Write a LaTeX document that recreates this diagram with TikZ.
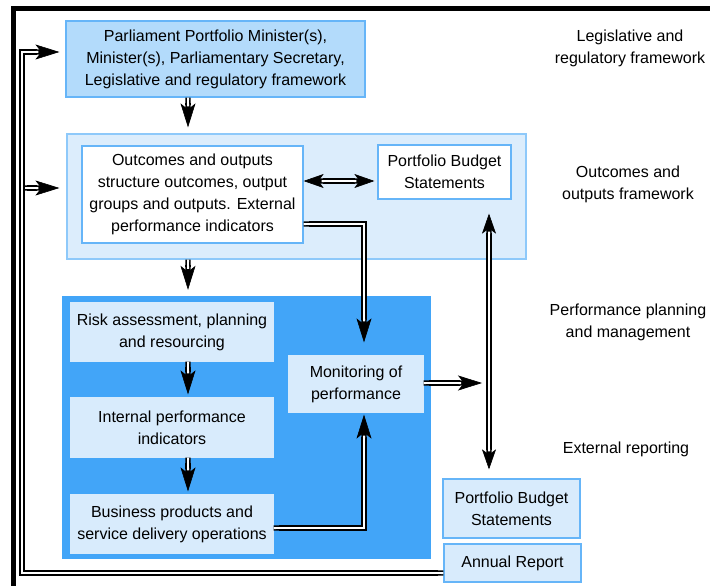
\documentclass[tikz,border=0pt]{standalone}
\usepackage{fontspec}
\setmainfont{Liberation Sans}
\usetikzlibrary{arrows.meta,calc}

\definecolor{topfill}{HTML}{B3DBFB}
\definecolor{edgeblue}{HTML}{66B5F8}
\definecolor{paleblue}{HTML}{DCEDFC}
\definecolor{paleedge}{HTML}{8EC9FA}
\definecolor{deepblue}{HTML}{42A5F8}
\definecolor{boxfill}{HTML}{D8EBFC}

\tikzset{
  box/.style={draw=edgeblue, line width=1.2pt, inner sep=0pt, align=center,
    font=\fontsize{16}{22}\selectfont},
  panel/.style={inner sep=0pt},
  lbl/.style={align=center, inner sep=0pt, font=\fontsize{16}{22}\selectfont},
  frameline/.style={line width=4.5pt, black},
  bigtip/.style={-{Stealth[length=24pt,width=15pt,inset=6pt,fill=black]}},
  twotips/.style={{Stealth[length=20pt,width=14pt,inset=5pt,fill=black]}-{Stealth[length=20pt,width=14pt,inset=5pt,fill=black]}},
  tipline/.style={draw=black, line width=0.6pt},
  pipeouter/.style={draw=black, line width=5.4pt, {Butt Cap}-{Butt Cap}},
  pipecore/.style={draw=white, line width=2pt, {Butt Cap}-{Butt Cap}},
}

% a double-line connector with solid tips:
% #1 options of the tip stroke, #2 options of the outer body,
% #3 options of the white core, #4 the path
\newcommand\pipe[4]{%
  \draw[tipline,#1] #4;
  \draw[pipeouter,#2] #4;
  \draw[pipecore,#3] #4;}

\begin{document}
\begin{tikzpicture}[x=1pt,y=-1pt]
\useasboundingbox (0,0) rectangle (710,586);

% outer frame
\draw[frameline] (710,8.5) -- (13.5,8.5) -- (13.5,586);

% background panels
\node[panel, draw=paleedge, line width=1.2pt, fill=paleblue,
      minimum width=459pt, minimum height=125pt] (outframe) at (296.5,196.5) {};
\node[panel, fill=deepblue, minimum width=369pt, minimum height=263pt] (ppm) at (246.5,427.5) {};

% boxes
\node[box, fill=topfill, minimum width=299pt, minimum height=76pt] (top) at (215.5,59)
  {Parliament Portfolio Minister(s),\\Minister(s), Parliamentary Secretary,\\Legislative and regulatory framework};
\node[box, fill=white, minimum width=221pt, minimum height=97pt] (inner) at (192.5,194.5)
  {Outcomes and outputs\\structure outcomes, output\\groups and outputs. External\\performance indicators};
\node[box, fill=white, minimum width=133pt, minimum height=54pt] (pbs) at (444.5,172)
  {Portfolio Budget\\Statements};
\node[box, draw=boxfill, fill=boxfill, minimum width=202pt, minimum height=58pt] (risk) at (172,332)
  {Risk assessment, planning\\and resourcing};
\node[box, draw=boxfill, fill=boxfill, minimum width=202pt, minimum height=59pt] (internal) at (172,427.5)
  {Internal performance\\indicators};
\node[box, draw=boxfill, fill=boxfill, minimum width=202pt, minimum height=58pt] (business) at (172,524)
  {Business products and\\service delivery operations};
\node[box, draw=boxfill, fill=boxfill, minimum width=134pt, minimum height=56pt] (monitor) at (356,384)
  {Monitoring of\\performance};
\node[box, fill=boxfill, minimum width=137pt, minimum height=59pt] (extpbs) at (511.5,508.5)
  {Portfolio Budget\\Statements};
\node[box, fill=boxfill, minimum width=137pt, minimum height=38pt] (annual) at (512.5,563)
  {Annual Report};

% side labels
\node[lbl] (l1) at (630,48) {Legislative and\\regulatory framework};
\node[lbl] (l2) at (628,184) {Outcomes and\\outputs framework};
\node[lbl] (l3) at (628,322) {Performance planning\\and management};
\node[lbl] (l4) at (626,449) {External reporting};

% guide coordinates for the connector routes
\coordinate (colA) at (188,0);
\coordinate (colM) at (364,0);
\coordinate (colR) at (489,0);
\coordinate (colL) at (22,0);
\coordinate (rowPB) at (0,181);
\coordinate (rowOut) at (0,224);
\coordinate (rowBus) at (0,528);
\coordinate (rowMon) at (0,383);
\coordinate (rowTop) at (0,52);
\coordinate (rowOF) at (0,188);
\coordinate (rowAR) at (0,573);
\coordinate (monTip) at (482,383);

% connectors (body ends at the notch of the tip, core a little earlier)
\pipe{bigtip, shorten >=6pt}{shorten >=23pt}{shorten >=27pt}{(top.south -| colA) -- (outframe.north -| colA)}
\pipe{bigtip, shorten >=6pt}{shorten >=23pt}{shorten >=27pt}{(outframe.south -| colA) -- (ppm.north -| colA)}
\pipe{bigtip, shorten >=3pt}{shorten >=20pt}{shorten >=24pt}{(risk.south -| colA) -- (internal.north -| colA)}
\pipe{bigtip, shorten >=3pt}{shorten >=20pt}{shorten >=24pt}{(internal.south -| colA) -- (business.north -| colA)}
\pipe{twotips, shorten >=3pt}{shorten <=14pt, shorten >=17pt}{shorten <=18pt, shorten >=21pt}{(inner.east |- rowPB) -- (pbs.west |- rowPB)}
\pipe{bigtip, shorten >=13pt}{shorten >=30pt}{shorten >=34pt}{(inner.east |- rowOut) -| (monitor.north -| colM)}
\pipe{bigtip, shorten >=2pt}{shorten >=19pt}{shorten >=23pt}{(business.east |- rowBus) -| (monitor.south -| colM)}
\pipe{bigtip}{shorten >=17pt}{shorten >=21pt}{(monitor.east |- rowMon) -- (monTip)}
\pipe{twotips, shorten <=14pt, shorten >=9pt}{shorten <=28pt, shorten >=23pt}{shorten <=32pt, shorten >=27pt}{(pbs.south -| colR) -- (extpbs.north -| colR)}

% feedback loop from the annual report
\pipe{bigtip, shorten >=7pt}{shorten >=24pt}{shorten >=28pt}{(colL |- rowOF) -- (outframe.west |- rowOF)}
\pipe{bigtip, shorten >=6pt}{shorten >=23pt}{shorten >=27pt}{(annual.west |- rowAR) -- (colL |- rowAR) -- (colL |- rowTop) -- (top.west |- rowTop)}
\end{tikzpicture}
\end{document}
